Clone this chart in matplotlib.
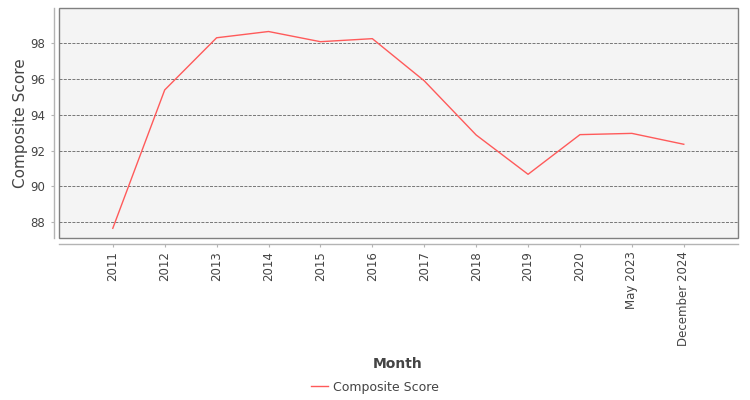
import matplotlib
matplotlib.use('Agg')
import matplotlib.pyplot as plt

# data
months = ['2011', '2012', '2013', '2014', '2015', '2016', '2017', '2018',
          '2019', '2020', 'May 2023', 'December 2024']
composite = [87.65, 95.39, 98.31, 98.66, 98.09, 98.26, 95.90, 92.87,
             90.67, 92.89, 92.96, 92.35]
yticks = [88, 90, 92, 94, 96, 98]

fig = plt.figure(figsize=(7.5, 4), dpi=100)
ax = fig.add_axes([0.0791, 0.4043, 0.9053, 0.575])

x = range(len(months))
ax.plot(x, composite, color='#ff5a5a', lw=1, label='Composite Score')

ax.set_xlim(-1.03, 12.05)
ax.set_ylim(87.09, 99.96)

# plot background + border
ax.patch.set_facecolor('#f4f4f4')
ax.patch.set_edgecolor('#808080')
ax.patch.set_linewidth(1)

for s in ['top', 'right']:
    ax.spines[s].set_visible(False)
for s in ['left', 'bottom']:
    ax.spines[s].set_position(('outward', 4))
    ax.spines[s].set_color('#b4b4b4')
    ax.spines[s].set_linewidth(1)

ax.set_yticks(yticks)
ax.yaxis.grid(True, color='#7a7a7a', linestyle=(0, (3, 1.3)), linewidth=0.72)
ax.set_axisbelow(True)

ax.set_xticks(list(x))
ax.set_xticklabels(months, rotation=90)
ax.tick_params(axis='x', length=2, color='#b4b4b4', pad=3, labelsize=8.5,
               labelcolor='#444444')
ax.tick_params(axis='y', length=2, color='#b4b4b4', pad=4, labelsize=8.5,
               labelcolor='#444444')

ax.set_ylabel('Composite Score', fontsize=11, color='#444444')
ax.yaxis.label.set_va('center')
ax.yaxis.set_label_coords(-0.0579, 0.5)
ax.set_xlabel('Month', fontsize=10, fontweight='bold', color='#444444')
ax.xaxis.label.set_va('center')
ax.xaxis.set_label_coords(0.4988, -0.5465)

fig.legend(loc='center', bbox_to_anchor=(0.5, 0.0325), frameon=False,
           fontsize=9, handlelength=1.3, handletextpad=0.4, labelcolor='#444444')

fig.savefig('out.png', dpi=100)
